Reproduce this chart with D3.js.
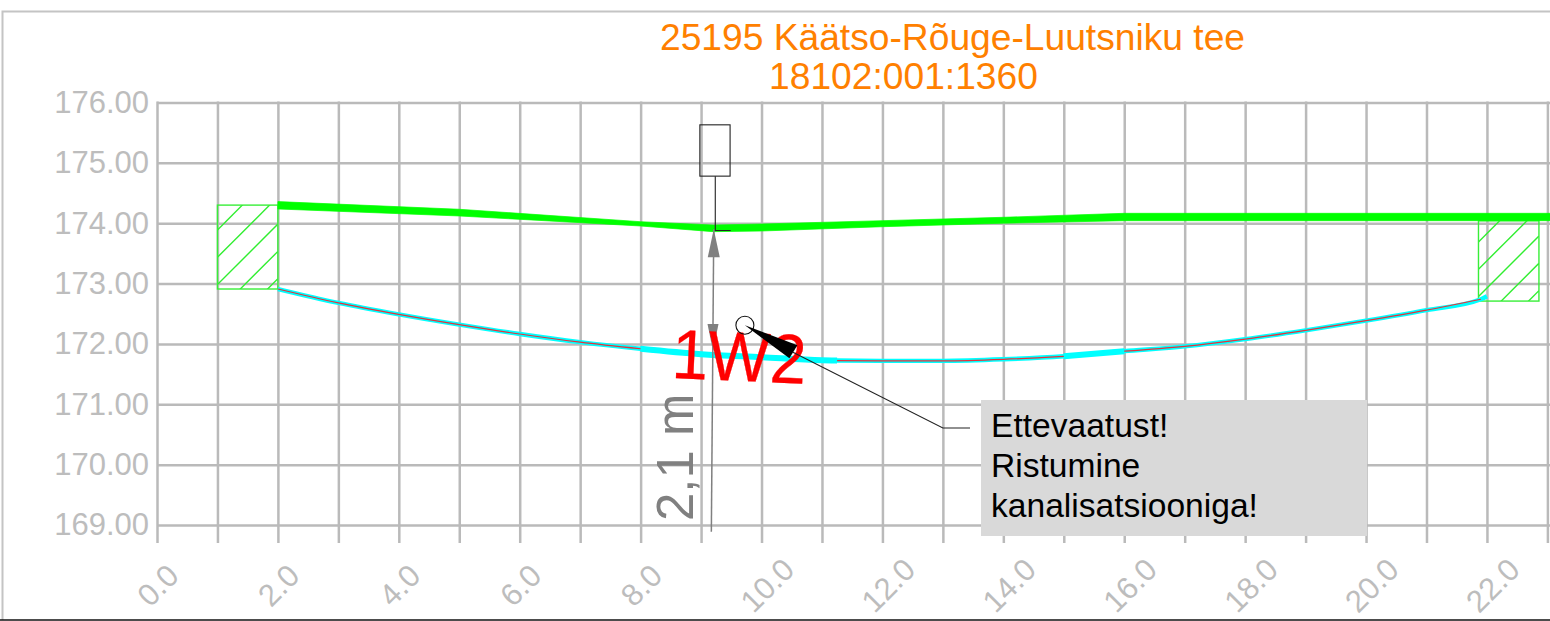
<!DOCTYPE html>
<html>
<head>
<meta charset="utf-8">
<script src="https://cdnjs.cloudflare.com/ajax/libs/d3/7.8.5/d3.min.js"></script>
<style>
html,body{margin:0;padding:0;background:#fff;overflow:hidden}
text{font-family:"Liberation Sans",Arial,sans-serif}
</style>
</head>
<body>
<svg id="chart" width="1550" height="621"></svg>
<script>
// andmed
const titleLines = ["25195 Käätso-Rõuge-Luutsniku tee", "18102:001:1360"];
const noteLines = ["Ettevaatust!", "Ristumine", "kanalisatsiooniga!"];
const yTicks = [169, 170, 171, 172, 173, 174, 175, 176];
const xTicks = d3.range(0, 24);

// roheline joon: ulemine ja alumine serv
const greenX      = [2, 5, 8, 9.2, 10, 12, 14, 16, 23.1];
const greenTop    = [174.358, 174.231, 174.025, 173.970, 173.987, 174.042, 174.098, 174.164, 174.164];
const greenBottom = [174.236, 174.120, 173.954, 173.860, 173.871, 173.942, 174.000, 174.042, 174.042];

// toru
const pipeX = [2, 3, 4, 5, 6, 7, 8, 9, 10, 11, 11.25, 12, 13, 14, 15, 16, 17, 18, 19, 20, 21, 21.9, 22];
const pipeY = [172.91, 172.68, 172.49, 172.32, 172.165, 172.03, 171.92, 171.83, 171.78, 171.73, 171.725, 171.72,
  171.72, 171.745, 171.795, 171.88, 171.96, 172.08, 172.225, 172.385, 172.56, 172.74, 172.79];
const redParts = [[2, 8], [11.25, 15], [16, 21.9]];
const thickParts = [[8, 11.25], [15, 16]];

// viirutatud kastid [x0, x1, yTop, yBottom]
const hatchBoxes = [[1, 2, 174.30, 172.91], [21.86, 22.86, 174.04, 172.71]];
// mast
const signBox = [8.98, 9.48, 175.63, 174.78];
const signStem = [9.235, 173.88];
const signFootEnd = 9.49;
// mootmine
const dimTop = [9.21, 173.90];
const dimBottom = [9.17, 168.89];
const dimLabel = "2,1 m";
const crossLabel = "1W2";
// viide
const markerPt = [9.725, 172.31];

const svg = d3.select("#chart");
const x = d3.scaleLinear().domain([0, 23]).range([157, 1547.4]);
const y = d3.scaleLinear().domain([169, 176]).range([525, 102.5]);
const grey = "#bababa", lime = "#00ff00";

// raam
svg.append("path").attr("d", "M1550,11.5H2.5V620").attr("fill", "none").attr("stroke", "#c4c4c4").attr("stroke-width", 2);
svg.append("line").attr("x1", 0).attr("x2", 1550).attr("y1", 620).attr("y2", 620).attr("stroke", "#111").attr("stroke-width", 1.5);

// teljed
const gy = svg.append("g").attr("transform", "translate(157,0)")
  .call(d3.axisLeft(y).tickValues(yTicks).tickSize(-1393).tickPadding(8).tickFormat(d3.format(".2f")));
const gx = svg.append("g").attr("transform", "translate(0,525)")
  .call(d3.axisBottom(x).tickValues(xTicks).tickSize(18).tickFormat(d => d % 2 ? "" : d3.format(".1f")(d)));
gy.select(".domain").remove();
gx.select(".domain").remove();
gy.selectAll("line").attr("stroke", grey).attr("stroke-width", 2.5);
gx.selectAll("line").attr("stroke", grey).attr("stroke-width", 2.5).attr("y1", y(176) - 525 - 1);
gy.selectAll("text").attr("fill", "#bdbdbd").style("font-size", "31px");
gx.selectAll("text").attr("fill", "#bdbdbd").style("font-size", "31px")
  .attr("text-anchor", "middle").attr("y", 0).attr("dy", "0.36em")
  .attr("transform", d => "translate(" + (d < 10 ? 0 : 5) + ",60) rotate(-45)");

// viirutus
const defs = svg.append("defs");
const hatch = 27.3;
hatchBoxes.forEach((b, i) => {
  const px = x(b[0]), pw = x(b[1]) - x(b[0]), py = y(b[2]), ph = y(b[3]) - y(b[2]);
  defs.append("clipPath").attr("id", "hb" + i).append("rect").attr("x", px).attr("y", py).attr("width", pw).attr("height", ph);
  const g = svg.append("g");
  const gh = g.append("g").attr("clip-path", "url(#hb" + i + ")");
  const first = [447.4, 1720.4][i];
  d3.range(-3, 8).forEach(k => {
    const s = first + k * hatch;
    gh.append("line").attr("x1", px).attr("y1", s - px).attr("x2", px + pw).attr("y2", s - px - pw)
      .attr("stroke", "#30ee30").attr("stroke-width", 1.4);
  });
  g.append("rect").attr("x", px).attr("y", py).attr("width", pw).attr("height", ph)
    .attr("fill", "none").attr("stroke", "#38ee38").attr("stroke-width", 1.4);
});

// roheline
const greenData = greenX.map((d, i) => ({x: d, t: greenTop[i], b: greenBottom[i]}));
svg.append("path").datum(greenData).attr("fill", lime).attr("stroke", lime).attr("stroke-width", 0.7)
  .attr("d", d3.area().x(d => x(d.x)).y0(d => y(d.b)).y1(d => y(d.t)));

// toru
const pipeData = pipeX.map((d, i) => ({x: d, y: pipeY[i]}));
const pipeLine = d3.line().x(d => x(d.x)).y(d => y(d.y)).curve(d3.curveMonotoneX);
const part = r => pipeData.filter(d => d.x >= r[0] && d.x <= r[1]);
svg.append("path").datum(pipeData).attr("fill", "none").attr("stroke", "#00ffff").attr("stroke-width", 4.4).attr("d", pipeLine);
thickParts.forEach(r => {
  svg.append("path").datum(part(r)).attr("fill", "none").attr("stroke", "#00ffff").attr("stroke-width", 6).attr("d", pipeLine);
});
redParts.forEach(r => {
  svg.append("path").datum(part(r)).attr("fill", "none").attr("stroke", "#e8303a").attr("stroke-width", 1.2).attr("d", pipeLine);
});

// mast
svg.append("rect").attr("x", x(signBox[0])).attr("y", y(signBox[2]))
  .attr("width", x(signBox[1]) - x(signBox[0])).attr("height", y(signBox[3]) - y(signBox[2]))
  .attr("fill", "none").attr("stroke", "#222").attr("stroke-width", 1.1);
svg.append("path").attr("fill", "none").attr("stroke", "#222").attr("stroke-width", 1.1)
  .attr("d", d3.line()([[x(signStem[0]), y(signBox[3])], [x(signStem[0]), y(signStem[1])], [x(signFootEnd), y(signStem[1])]]));

// mootmine
const dimGrey = "#808080";
svg.append("line").attr("x1", x(dimTop[0])).attr("y1", y(dimTop[1])).attr("x2", x(dimBottom[0])).attr("y2", y(dimBottom[1]))
  .attr("stroke", dimGrey).attr("stroke-width", 1.5);
const tipTop = [x(dimTop[0]), y(dimTop[1])];
svg.append("path").attr("fill", dimGrey).attr("d", d3.line()([tipTop, [tipTop[0] + 6, tipTop[1] + 28], [tipTop[0] - 6, tipTop[1] + 28]]) + "Z");
svg.append("path").attr("fill", dimGrey).attr("d", d3.line()([[713, 351], [718.5, 324], [707.5, 324]]) + "Z");
svg.append("text").attr("transform", "translate(693,521) rotate(-90)").attr("fill", dimGrey)
  .style("font-size", "51px").text(dimLabel);

// ristumise kiri
svg.append("text").attr("transform", "translate(671,378) rotate(2.5) scale(0.935,1)").attr("fill", "#ff0000")
  .attr("stroke", "#ff0000").attr("stroke-width", 0.3).style("font-size", "70px").text(crossLabel);

// viide
const mx = x(markerPt[0]), my = y(markerPt[1]);
svg.append("circle").attr("cx", mx).attr("cy", my).attr("r", 9).attr("fill", "none").attr("stroke", "#111").attr("stroke-width", 1.1);
svg.append("path").attr("fill", "#000").attr("d", d3.line()([[mx, my], [mx + 52.5, my + 20], [mx + 44.5, my + 33]]) + "Z");
svg.append("path").attr("fill", "none").attr("stroke", "#222").attr("stroke-width", 1.1)
  .attr("d", d3.line()([[mx + 48, my + 27], [x(13), 428], [970, 428]]));

// markus
svg.append("rect").attr("x", 981).attr("y", 400).attr("width", 386).attr("height", 136).attr("fill", "#d9d9d9");
svg.append("g").selectAll("text").data(noteLines).enter().append("text")
  .attr("x", 991).attr("y", (d, i) => 437 + i * 40).attr("fill", "#000").style("font-size", "33.6px").text(d => d);

// pealkiri
const titleCx = [952.5, 903.5];
svg.append("g").selectAll("text").data(titleLines).enter().append("text")
  .attr("x", (d, i) => titleCx[i]).attr("y", (d, i) => 50 + i * 39).attr("text-anchor", "middle").attr("fill", "#ff8000")
  .style("font-size", "37.2px").text(d => d);
</script>
</body>
</html>
